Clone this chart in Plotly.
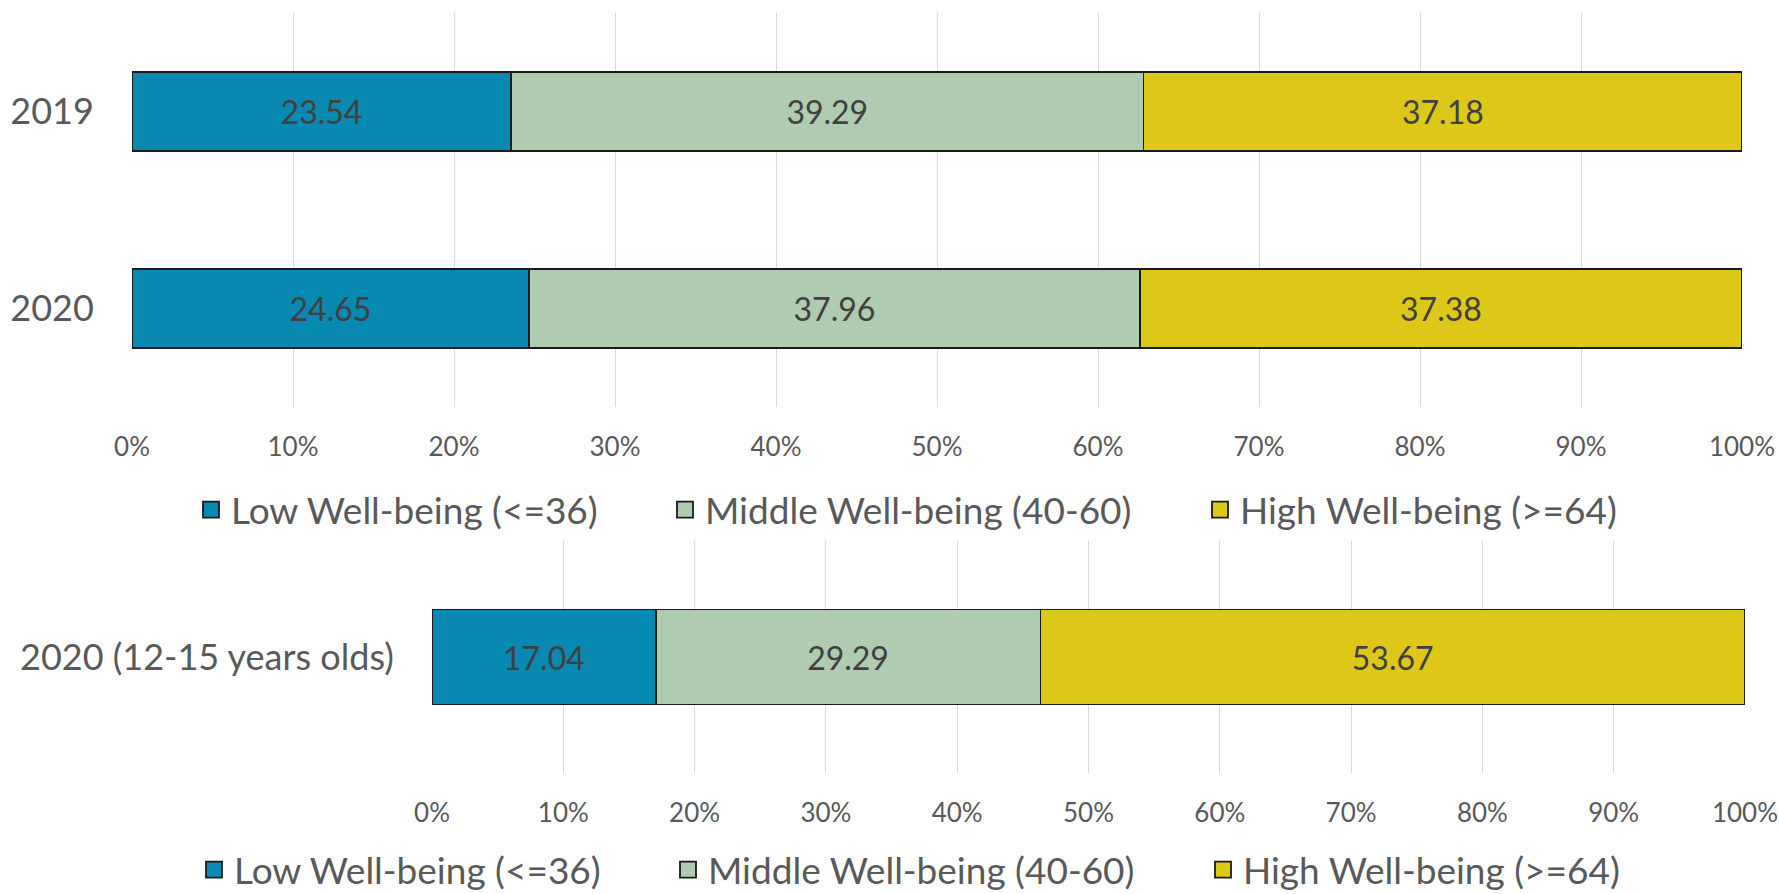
import plotly.graph_objects as go

W, H = 1779, 894

# ---- data ----
series_names = ["Low Well-being (<=36)", "Middle Well-being (40-60)", "High Well-being (>=64)"]
series_colors = ["#0789B2", "#AFCCB1", "#DDC81A"]

top_categories = ["2019", "2020"]
top_low = [23.54, 24.65]
top_mid = [39.29, 37.96]
top_high = [37.18, 37.38]

bottom_categories = ["2020 (12-15 years olds)"]
bottom_low = [17.04]
bottom_mid = [29.29]
bottom_high = [53.67]

tick_vals = [0, 10, 20, 30, 40, 50, 60, 70, 80, 90, 100]
tick_text = ["0%", "10%", "20%", "30%", "40%", "50%", "60%", "70%", "80%", "90%", "100%"]

FONT = "Lato, 'Open Sans', sans-serif"
GREY = "#595959"
LABEL = "#404040"
EDGE = "#1a1a1a"

fig = go.Figure()

top_vals = [top_low, top_mid, top_high]
bot_vals = [bottom_low, bottom_mid, bottom_high]
legend_keys = ["legend", "legend2", "legend3", "legend4", "legend5", "legend6"]

for i, name in enumerate(series_names):
    fig.add_trace(go.Bar(
        y=top_categories, x=top_vals[i], orientation="h", name=name,
        marker=dict(color=series_colors[i], line=dict(color=EDGE, width=1.6)),
        width=0.40, xaxis="x", yaxis="y", showlegend=False, legendgroup=f"top{i}",
        texttemplate="%{x:.2f}", textposition="inside", insidetextanchor="middle",
        textfont=dict(family=FONT, size=32, color=LABEL), constraintext="none",
    ))
    # legend entry (larger square symbol)
    fig.add_trace(go.Scatter(
        x=[None], y=[None], mode="markers", name=name, xaxis="x", yaxis="y",
        marker=dict(symbol="square", size=16, color=series_colors[i], line=dict(color=EDGE, width=1.8)),
        legend=legend_keys[i], legendgroup=f"top{i}", showlegend=True, hoverinfo="skip",
    ))
for i, name in enumerate(series_names):
    fig.add_trace(go.Bar(
        y=bottom_categories, x=bot_vals[i], orientation="h", name=name,
        marker=dict(color=series_colors[i], line=dict(color=EDGE, width=1.6)),
        width=0.41, xaxis="x2", yaxis="y2", showlegend=False, legendgroup=f"bot{i}",
        texttemplate="%{x:.2f}", textposition="inside", insidetextanchor="middle",
        textfont=dict(family=FONT, size=32, color=LABEL), constraintext="none",
    ))
    fig.add_trace(go.Scatter(
        x=[None], y=[None], mode="markers", name=name, xaxis="x2", yaxis="y2",
        marker=dict(symbol="square", size=16, color=series_colors[i], line=dict(color=EDGE, width=1.8)),
        legend=legend_keys[i + 3], legendgroup=f"bot{i}", showlegend=True, hoverinfo="skip",
    ))

def px_x(p):
    return p / W

def px_y(p):
    return 1 - p / H

xax = dict(range=[0, 100], tickvals=tick_vals, ticktext=tick_text, showgrid=True,
           gridcolor="#D9D9D9", gridwidth=1.3, zeroline=False, showline=False,
           ticks="outside", ticklen=17, tickcolor="rgba(0,0,0,0)", automargin=False,
           tickfont=dict(family=FONT, size=26, color=GREY), fixedrange=True)
yax = dict(showgrid=False, zeroline=False, showline=False, ticks="outside", ticklen=30,
           tickcolor="rgba(0,0,0,0)", tickfont=dict(family=FONT, size=36, color=GREY),
           autorange="reversed", fixedrange=True, automargin=False)

fig.update_layout(
    width=W, height=H,
    margin=dict(l=0, r=0, t=0, b=0, autoexpand=False),
    paper_bgcolor="white", plot_bgcolor="white",
    barmode="stack", showlegend=True,
    font=dict(family=FONT, color=GREY),
    xaxis=dict(xax, domain=[px_x(132), px_x(1742)], anchor="y"),
    yaxis=dict(yax, domain=[px_y(407), px_y(13)], anchor="x"),
    xaxis2=dict(xax, domain=[px_x(432), px_x(1745)], anchor="y2"),
    yaxis2=dict(yax, domain=[px_y(773), px_y(541)], anchor="x2"),
)

legend_centers_top = [211, 685, 1220]
legend_centers_bot = [214, 688, 1223]
legend_specs = [(c, 510) for c in legend_centers_top] + [(c, 870) for c in legend_centers_bot]
for key, (cx, cy) in zip(legend_keys, legend_specs):
    fig.update_layout({key: dict(
        x=px_x(cx - 20), y=px_y(cy), xanchor="left", yanchor="middle",
        orientation="h", bgcolor="rgba(0,0,0,0)", borderwidth=0,
        font=dict(family=FONT, size=37, color=GREY), itemclick=False, itemdoubleclick=False,
    )})

fig.write_html("out.html")
